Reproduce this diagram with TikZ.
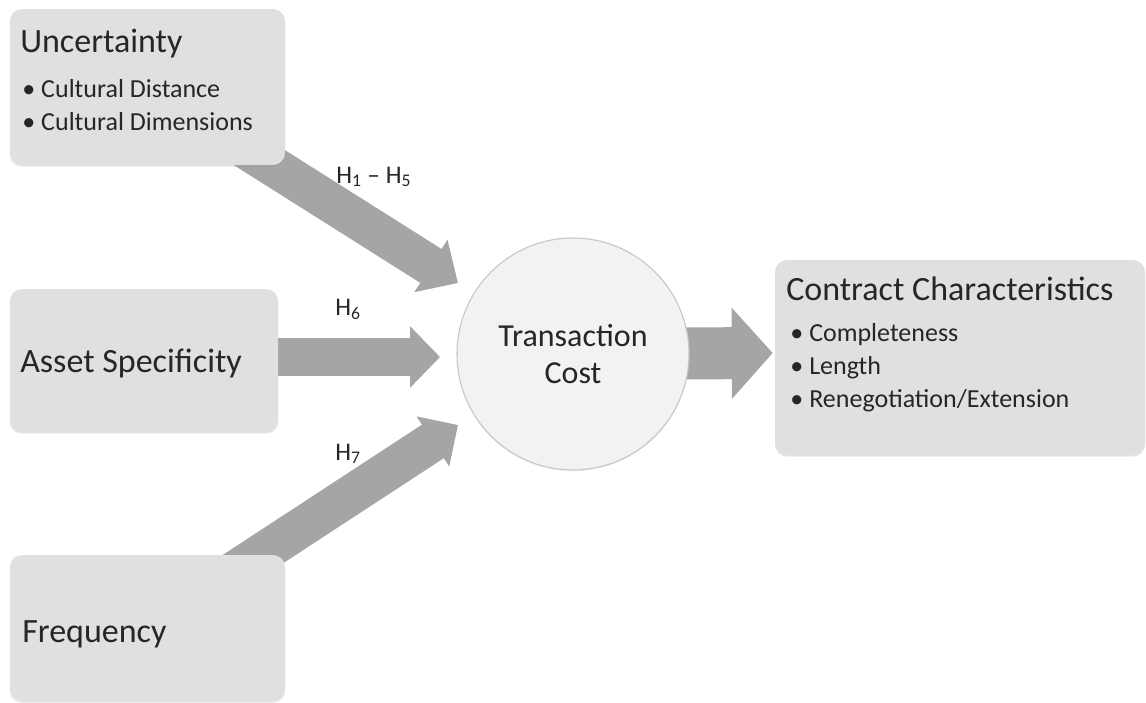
\documentclass[tikz,border=0pt]{standalone}
\usepackage{fontspec}
\setmainfont{Carlito}
\usepackage{tikz}
\usetikzlibrary{positioning, arrows.meta, calc, shadows, backgrounds}

\definecolor{boxfill}{HTML}{E0E0E0}
\definecolor{circfill}{HTML}{F2F2F2}
\definecolor{circline}{HTML}{C6C6C6}
\definecolor{arrowgray}{HTML}{A5A5A5}
\definecolor{txt}{HTML}{262626}
\newcommand{\itembullet}{\makebox[14.25pt][l]{•}}

\begin{document}
\begin{tikzpicture}[x=0.75pt, y=-0.75pt,
    block/.style={rectangle, fill=boxfill, rounded corners=9pt, inner sep=0pt,
                  drop shadow={shadow xshift=0pt, shadow yshift=-1.2pt, opacity=0.2}},
    title/.style={anchor=base west, inner sep=0pt, text=txt, font=\fontsize{25.5}{30}\selectfont},
    items/.style={anchor=base west, inner sep=0pt, text=txt, align=left, font=\fontsize{19.5}{24.5}\selectfont},
    hyp/.style={anchor=base west, inner sep=0pt, text=txt, font=\fontsize{19}{22}\selectfont},
    fat/.style={draw=arrowgray, line width=#1}
]
    \useasboundingbox (0,0) rectangle (1146,703);

    % Antecedents
    \node[block, minimum width=206.25pt, minimum height=117pt] (unc) at (147.5,87) {};
    \node[block, minimum width=201pt, minimum height=107.25pt] (asset) at (144,360.5) {};
    \node[block, minimum width=206.25pt, minimum height=109.5pt] (freq) at (147.5,628) {};

    % Mediator and outcome
    \node[circle, minimum size=174pt, inner sep=0pt, fill=circfill, draw=circline, line width=0.8pt,
          drop shadow={shadow xshift=0pt, shadow yshift=-1pt, opacity=0.1},
          align=center, text=txt, font=\fontsize{24}{27.75}\selectfont] (tc) at (573,354) {Transaction\\Cost};
    \node[block, minimum width=277.5pt, minimum height=146.25pt] (contract) at (960,357.5) {};

    % Texts (lists are anchored at their last line)
    \node[title] (unc-title) at (20,52) {Uncertainty};
    \node[items] (unc-list) at (22,130) {\itembullet Cultural Distance\\\itembullet Cultural Dimensions};
    \node[title] (asset-title) at (20,372) {Asset Specificity};
    \node[title] (freq-title) at (22,642) {Frequency};
    \node[title] (contract-title) at (786,300) {Contract Characteristics};
    \node[items] (contract-list) at (790,407) {\itembullet Completeness\\\itembullet Length\\\itembullet Renegotiation/Extension};

    % Hypotheses
    \node[hyp] (h15) at (336,183) {H\textsubscript{1} – H\textsubscript{5}};
    \node[hyp] (h6) at (335,315) {H\textsubscript{6}};
    \node[hyp] (h7) at (335,460) {H\textsubscript{7}};

    % Arrows
    \coordinate (tip-unc) at (458,283);
    \coordinate (tip-asset) at (440,357);
    \coordinate (tip-freq) at (458,425);
    \begin{scope}[on background layer]
        \draw[fat=30pt, -{Triangle[length=24pt, width=45pt]}] (unc.center) -- (tip-unc);
        \draw[fat=28.5pt, -{Triangle[length=22.5pt, width=45pt]}] (asset.center |- tip-asset) -- (tip-asset);
        \draw[fat=30pt, -{Triangle[length=22.5pt, width=43.5pt]}] (freq.center) -- (tip-freq);
        \draw[fat=39pt, -{Triangle[length=30.75pt, width=66.75pt]}] (tc.center) -- ($(contract.west)+(-2,-4.5)$);
    \end{scope}

\end{tikzpicture}
\end{document}
